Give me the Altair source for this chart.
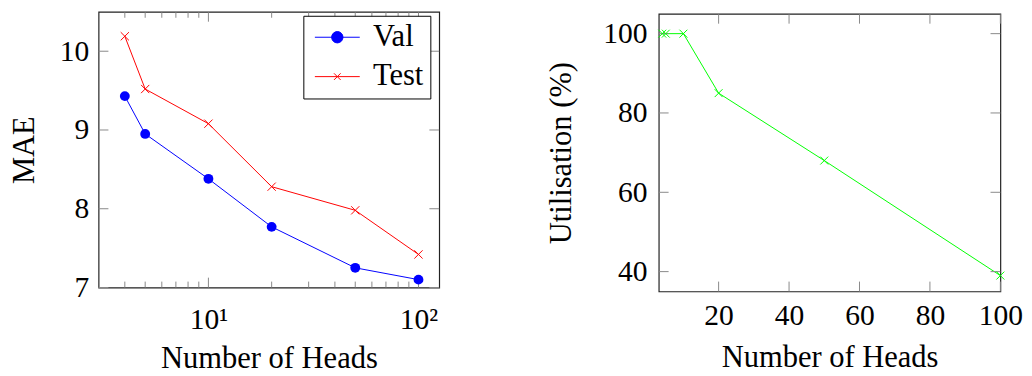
import altair as alt
import pandas as pd

# ---------------- data ----------------
heads = [4, 5, 10, 20, 50, 100]
mae_val = [9.43, 8.95, 8.38, 7.77, 7.25, 7.10]
mae_test = [10.19, 9.52, 9.08, 8.28, 7.98, 7.42]
utilisation = [100, 100, 100, 85, 68, 39]

series_names = ["Val", "Test"]
series_colors = ["#0000ff", "#ff0000"]
util_color = "#00ff00"

log_major = [10, 100]
log_minor = [4, 5, 6, 7, 8, 9, 20, 30, 40, 50, 60, 70, 80, 90]
left_yticks = [7, 8, 9, 10]
right_xticks = [20, 40, 60, 80, 100]
right_yticks = [40, 60, 80, 100]

# ---------------- style ----------------
FONT = "Liberation Serif"
FS = 30
TFS = 31
TICK = "#888888"
LW, LH = 346, 280
RW, RH = 347, 282
XPATH = "M-1,-1L1,1M-1,1L1,-1"
LEG_VAL = "M-1.9,0H1.9M-0.48,0A0.48,0.48,0,1,0,0.48,0A0.48,0.48,0,1,0,-0.48,0Z"
LEG_TEST = "M-1.9,0H1.9M-0.28,-0.28L0.28,0.28M-0.28,0.28L0.28,-0.28"

df_left = pd.DataFrame({
    "heads": heads * 2,
    "mae": mae_val + mae_test,
    "series": ["Val"] * len(heads) + ["Test"] * len(heads),
})
df_right = pd.DataFrame({"heads": heads, "util": utilisation})

# ---------------- left panel ----------------
lx = alt.Scale(type="log", domain=[3, 125.5], nice=False)
ly = alt.Scale(domain=[7, 10.5], nice=False, zero=False)

x_axis_l = alt.Axis(values=log_major, labelExpr="datum.value == 10 ? '10¹' : '10²'",
                    title="Number of Heads", labelPadding=18, titlePadding=9)
y_axis_l = alt.Axis(values=left_yticks, format="d", title="MAE",
                    labelPadding=10, titlePadding=19)


def series_layers(name, color, point_mark):
    base = alt.Chart(df_left).transform_filter(alt.datum.series == name)
    line = base.mark_line(strokeWidth=1, color=color).encode(
        x=alt.X("heads:Q", scale=lx, axis=x_axis_l),
        y=alt.Y("mae:Q", scale=ly, axis=y_axis_l),
    )
    pts = point_mark(base).encode(x=alt.X("heads:Q", scale=lx), y=alt.Y("mae:Q", scale=ly))
    return [line, pts]


val_layers = series_layers("Val", series_colors[0], lambda b: b.mark_point(
    filled=True, shape="circle", size=100, color=series_colors[0], opacity=1))
test_layers = series_layers("Test", series_colors[1], lambda b: b.mark_point(
    filled=False, shape=XPATH, size=70, color=series_colors[1], strokeWidth=1, opacity=1))

leg = alt.Legend(orient="none", legendX=208, legendY=4, title=None, symbolSize=576,
                 symbolStrokeWidth=1, symbolOffset=12.7, labelOffset=20.7, labelFontSize=TFS,
                 labelFont=FONT, labelColor="black", strokeColor="black", fillColor="white",
                 padding=6.3, rowPadding=8, symbolOpacity=1,
                 labelExpr="datum.label + '\u2005\u200a'")
legend_layer = alt.Chart(pd.DataFrame({"series": series_names})).mark_point(clip=True, strokeWidth=1).encode(
    x=alt.value(-60), y=alt.value(-60),
    shape=alt.Shape("series:N", scale=alt.Scale(domain=series_names, range=[LEG_VAL, LEG_TEST]), legend=leg),
    fill=alt.Fill("series:N", scale=alt.Scale(domain=series_names, range=series_colors), legend=leg),
    stroke=alt.Stroke("series:N", scale=alt.Scale(domain=series_names, range=series_colors), legend=leg),
)


def xticks(data, scale, length, h):
    d = pd.DataFrame({"v": data})
    b = alt.Chart(d).mark_rule(color=TICK, strokeWidth=1)
    bot = b.encode(x=alt.X("v:Q", scale=scale), y=alt.value(h), y2=alt.value(h - length))
    top = b.encode(x=alt.X("v:Q", scale=scale), y=alt.value(0.5), y2=alt.value(length))
    return [bot, top]


def yticks(data, scale, length, w):
    d = pd.DataFrame({"v": data})
    b = alt.Chart(d).mark_rule(color=TICK, strokeWidth=1)
    lft = b.encode(y=alt.Y("v:Q", scale=scale), x=alt.value(0), x2=alt.value(length))
    rgt = b.encode(y=alt.Y("v:Q", scale=scale), x=alt.value(w), x2=alt.value(w - length))
    return [lft, rgt]


left = alt.layer(
    val_layers[0], *xticks(log_minor, lx, 6, LH), *xticks(log_major, lx, 10, LH),
    *yticks(left_yticks, ly, 10, LW),
    test_layers[0], val_layers[1], test_layers[1], legend_layer,
).properties(width=LW, height=LH)

# ---------------- right panel ----------------
rx = alt.Scale(domain=[3, 100], nice=False, zero=False)
ry = alt.Scale(domain=[35, 105], nice=False, zero=False)

line_r = alt.Chart(df_right).mark_line(strokeWidth=1, color=util_color).encode(
    x=alt.X("heads:Q", scale=rx, axis=alt.Axis(values=right_xticks, title="Number of Heads",
                                                labelPadding=9.5, titlePadding=13)),
    y=alt.Y("util:Q", scale=ry, axis=alt.Axis(values=right_yticks, title="Utilisation (%)",
                                               labelPadding=12, titlePadding=25.5)),
)
pts_r = alt.Chart(df_right).mark_point(filled=False, shape=XPATH, size=64, color=util_color,
                                       strokeWidth=1, opacity=1).encode(
    x=alt.X("heads:Q", scale=rx), y=alt.Y("util:Q", scale=ry))

right_plot = alt.layer(
    line_r, *xticks(right_xticks, rx, 10, RH), *yticks(right_yticks, ry, 10, RW), pts_r,
).properties(width=RW, height=RH)

# thin invisible spacer that lowers the right panel a little
spacer = alt.Chart(pd.DataFrame({"s": [0]})).mark_rect(opacity=0).encode(
    x=alt.value(0), x2=alt.value(1), y=alt.value(0), y2=alt.value(1)
).properties(width=RW, height=1, view=alt.ViewBackground(stroke="transparent", strokeWidth=0))

right = alt.vconcat(spacer, right_plot, spacing=0)

chart = alt.hconcat(left, right, spacing=105).properties(
    padding={"left": 0, "top": 0, "right": 0, "bottom": 0}
).configure_view(stroke="#222222", strokeWidth=1.2).configure_axis(
    labelFont=FONT, titleFont=FONT, labelFontSize=FS, titleFontSize=TFS,
    labelColor="black", titleColor="black", titleFontWeight="normal",
    grid=False, domain=False, ticks=False, labelFlush=False, labelOverlap=False,
).configure_legend(labelFont=FONT)

chart.save("out.html", embed_options={"renderer": "svg", "actions": False})
